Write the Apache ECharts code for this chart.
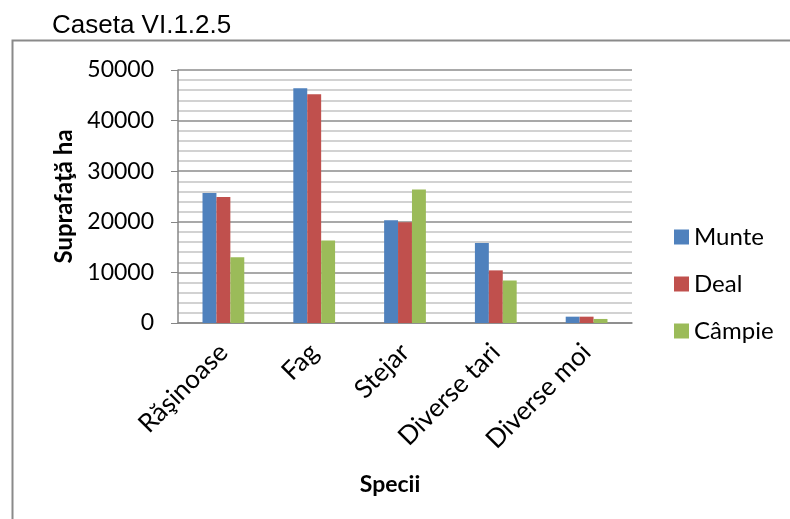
<!DOCTYPE html>
<html>
<head>
<meta charset="utf-8">
<script src="https://cdn.jsdelivr.net/npm/echarts@6/dist/echarts.min.js"></script>
<style>html,body{margin:0;padding:0;background:#fff;}#c{width:790px;height:519px;}</style>
</head>
<body>
<div id="c"></div>
<script>
const categories = ['Răşinoase', 'Fag', 'Stejar', 'Diverse tari', 'Diverse moi'];
const munte = [25700, 46400, 20300, 15800, 1250];
const deal = [24900, 45200, 19900, 10400, 1250];
const campie = [13000, 16300, 26400, 8400, 800];
const seriesNames = ['Munte', 'Deal', 'Câmpie'];
const yTicks = [0, 10000, 20000, 30000, 40000, 50000];

const chart = echarts.init(document.getElementById('c'));
const calibri = 'Lato, "Open Sans", sans-serif';
chart.setOption({
  animation: false,
  color: ['#4F81BD', '#C0504D', '#9BBB59'],
  title: [
    { text: 'Caseta VI.1.2.5', left: 47, top: 8,
      textStyle: { fontFamily: 'Liberation Sans, Arial, sans-serif', fontSize: 26, fontWeight: 'normal', color: '#000' } },
    { text: 'Specii', left: 385, top: 468, textAlign: 'center',
      textStyle: { fontFamily: calibri, fontSize: 23, fontWeight: 'bold', color: '#000' } }
  ],
  graphic: [
    { type: 'polyline', shape: { points: [[12.5, 519], [12.5, 40.5], [790, 40.5]] },
      style: { stroke: '#8a8a8a', lineWidth: 2, fill: null } }
  ],
  legend: {
    orient: 'vertical', left: 674, top: 225, padding: 0, itemWidth: 15, itemHeight: 15, itemGap: 23,
    icon: 'rect', data: seriesNames,
    textStyle: { fontFamily: calibri, fontSize: 24, color: '#000' }
  },
  grid: { left: 178, right: 158, top: 70, bottom: 196, containLabel: false },
  xAxis: {
    type: 'category', data: categories,
    axisLine: { lineStyle: { color: '#868686', width: 1.5 } },
    axisTick: { show: false },
    axisLabel: { rotate: 45, margin: 25, interval: 0, fontFamily: calibri, fontSize: 26, color: '#000' }
  },
  yAxis: {
    type: 'value', min: yTicks[0], max: yTicks[yTicks.length - 1], interval: 10000,
    name: 'Suprafaţă ha', nameLocation: 'middle', nameGap: 93, nameRotate: 90,
    nameTextStyle: { fontFamily: calibri, fontSize: 24, fontWeight: 'bold', color: '#000' },
    axisLine: { show: true, lineStyle: { color: '#868686', width: 1.5 } },
    axisTick: { show: true, length: 7, lineStyle: { color: '#868686' } },
    axisLabel: { margin: 24, fontFamily: calibri, fontSize: 23, color: '#000', formatter: v => String(v) },
    splitLine: { show: true, lineStyle: { color: '#8c8c8c', width: 1.5 } },
    minorTick: { show: false, splitNumber: 5 },
    minorSplitLine: { show: true, lineStyle: { color: '#c4c4c4', width: 1.5 } }
  },
  series: [
    { name: seriesNames[0], type: 'bar', data: munte, barGap: 0, barCategoryGap: '54%' },
    { name: seriesNames[1], type: 'bar', data: deal, barGap: 0, barCategoryGap: '54%' },
    { name: seriesNames[2], type: 'bar', data: campie, barGap: 0, barCategoryGap: '54%' }
  ]
});
</script>
</body>
</html>
